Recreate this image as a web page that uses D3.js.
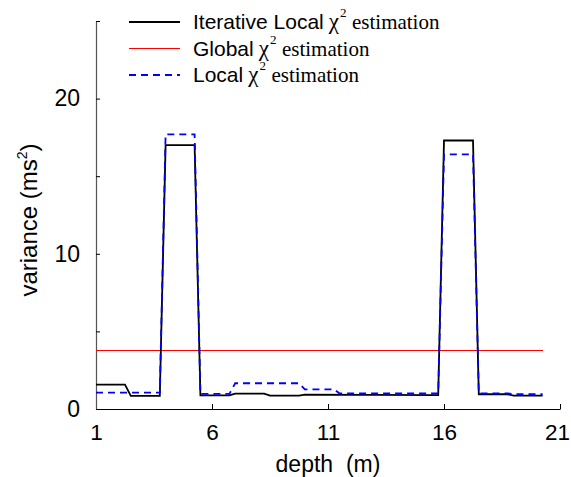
<!DOCTYPE html>
<html><head><meta charset="utf-8">
<script src="https://cdn.jsdelivr.net/npm/d3@7"></script>
<style>
html,body{margin:0;padding:0;background:#fff;}
</style></head>
<body><svg id="chart" width="571" height="477"></svg>
<script>
// ---- data ----
const iterDepth = [1, 2.25, 2.5, 3.75, 4.0, 5.25, 5.5, 6.75, 7.0, 8.25, 8.5, 9.75, 10.0, 15.75, 16.0, 17.25, 17.5, 18.75, 19.0, 20.25];
const iterVar   = [1.57, 1.57, 0.84, 0.84, 17.0, 17.0, 0.88, 0.88, 0.99, 0.99, 0.86, 0.86, 0.92, 0.9, 17.3, 17.3, 0.95, 0.95, 0.86, 0.86];
const localDepth = [1, 3.75, 4.0, 5.25, 5.5, 6.75, 7.0, 9.75, 10.0, 11.25, 11.5, 15.75, 16.0, 17.25, 17.5, 18.75, 19.0, 20.25];
const localVar   = [1.05, 1.05, 17.7, 17.7, 0.97, 0.97, 1.66, 1.66, 1.27, 1.27, 1.0, 1.0, 16.4, 16.4, 1.0, 1.0, 0.95, 0.95];
const globalDepth = [1, 20.25];
const globalVar   = [3.74, 3.74];
const xTicks = [1, 6, 11, 16, 21];
const yTicks = [0, 5, 10, 15, 20, 25];
const yLabels = [0, 10, 20];
const legendNames = ["Iterative Local", "Global", "Local"];

const SANS = "Liberation Sans, Arial, Helvetica, sans-serif";
const SERIF = "Times New Roman, Liberation Serif, DejaVu Serif, serif";

const svg = d3.select("#chart");
const x = d3.scaleLinear().domain([1, 21]).range([96, 560]);
const y = d3.scaleLinear().domain([0, 25]).range([409, 21]);

// axes
const xAxis = d3.axisBottom(x).tickValues(xTicks).tickSize(-5).tickPadding(10).tickSizeOuter(0);
const gx = svg.append("g").attr("transform", "translate(0,409)").call(xAxis);
gx.attr("font-family", null).attr("font-size", null);
gx.selectAll("text").attr("font-family", SANS).attr("font-size", 22.5).attr("fill", "#000").attr("dy", "0.92em")
  .attr("dx", d => d === 21 ? -3 : 0);
gx.select(".domain").attr("stroke", "#000").attr("stroke-width", 1.2);
gx.selectAll(".tick line").attr("stroke", "#000");

const yAxis = d3.axisLeft(y).tickValues(yTicks).tickSize(-4).tickPadding(16).tickSizeOuter(0)
  .tickFormat(d => yLabels.includes(d) ? d : "");
const gy = svg.append("g").attr("transform", "translate(96,0)").call(yAxis);
gy.attr("font-family", null).attr("font-size", null);
gy.selectAll("text").attr("font-family", SANS).attr("font-size", 23).attr("fill", "#000");
gy.select(".domain").attr("stroke", "#555").attr("stroke-width", 1.2);
gy.selectAll(".tick line").attr("stroke", "#000");

// lines
const line = d3.line().x(d => x(d[0])).y(d => y(d[1]));
const zip = (a, b) => a.map((v, i) => [v, b[i]]);

svg.append("path").datum(zip(globalDepth, globalVar)).attr("d", line)
  .attr("fill", "none").attr("stroke", "#ff0000").attr("stroke-width", 1).attr("shape-rendering", "crispEdges");
svg.append("path").datum(zip(iterDepth, iterVar)).attr("d", line)
  .attr("fill", "none").attr("stroke", "#000").attr("stroke-width", 1.8);
svg.append("path").datum(zip(localDepth, localVar)).attr("d", line)
  .attr("fill", "none").attr("stroke", "#0000ff").attr("stroke-width", 1.8).attr("stroke-dasharray", "7,5");

// axis labels
svg.append("text").attr("x", 328).attr("y", 472).attr("text-anchor", "middle")
  .attr("font-family", SANS).attr("font-size", 23).attr("fill", "#000")
  .attr("xml:space", "preserve").style("white-space", "pre").text("depth  (m)");
const yl = svg.append("text").attr("transform", "translate(37,220) rotate(-90)").attr("text-anchor", "middle")
  .attr("font-family", SANS).attr("font-size", 24).attr("fill", "#000");
yl.append("tspan").text("variance (ms");
yl.append("tspan").attr("font-size", 14).attr("dy", -10).text("2");
yl.append("tspan").attr("dy", 10).text(")");

// legend
const legendStyle = [
  {color: "#000", dash: null, w: 1.8},
  {color: "#ff0000", dash: null, w: 1},
  {color: "#0000ff", dash: "7,5", w: 1.8}
];
legendNames.forEach((name, i) => {
  const st = legendStyle[i];
  const ly = 22 + i * 26.5;
  svg.append("line").attr("x1", 129).attr("x2", 180).attr("y1", ly).attr("y2", ly)
    .attr("stroke", st.color).attr("stroke-width", st.w).attr("stroke-dasharray", st.dash);
  const base = ly + 7;
  const t1 = svg.append("text").attr("x", 193).attr("y", base)
    .attr("font-family", SANS).attr("font-size", 21).attr("fill", "#000").text(name);
  let cx = 193 + t1.node().getComputedTextLength() + 5;
  const t2 = svg.append("text").attr("x", cx).attr("y", base)
    .attr("font-family", SERIF).attr("font-size", 23).attr("fill", "#000").text("χ");
  cx += t2.node().getComputedTextLength() + 1;
  svg.append("text").attr("x", cx).attr("y", base - 12)
    .attr("font-family", SERIF).attr("font-size", 13).attr("fill", "#000").text("2");
  cx += 12;
  svg.append("text").attr("x", cx).attr("y", base)
    .attr("font-family", SERIF).attr("font-size", 21).attr("fill", "#000").text("estimation");
});
</script></body></html>
